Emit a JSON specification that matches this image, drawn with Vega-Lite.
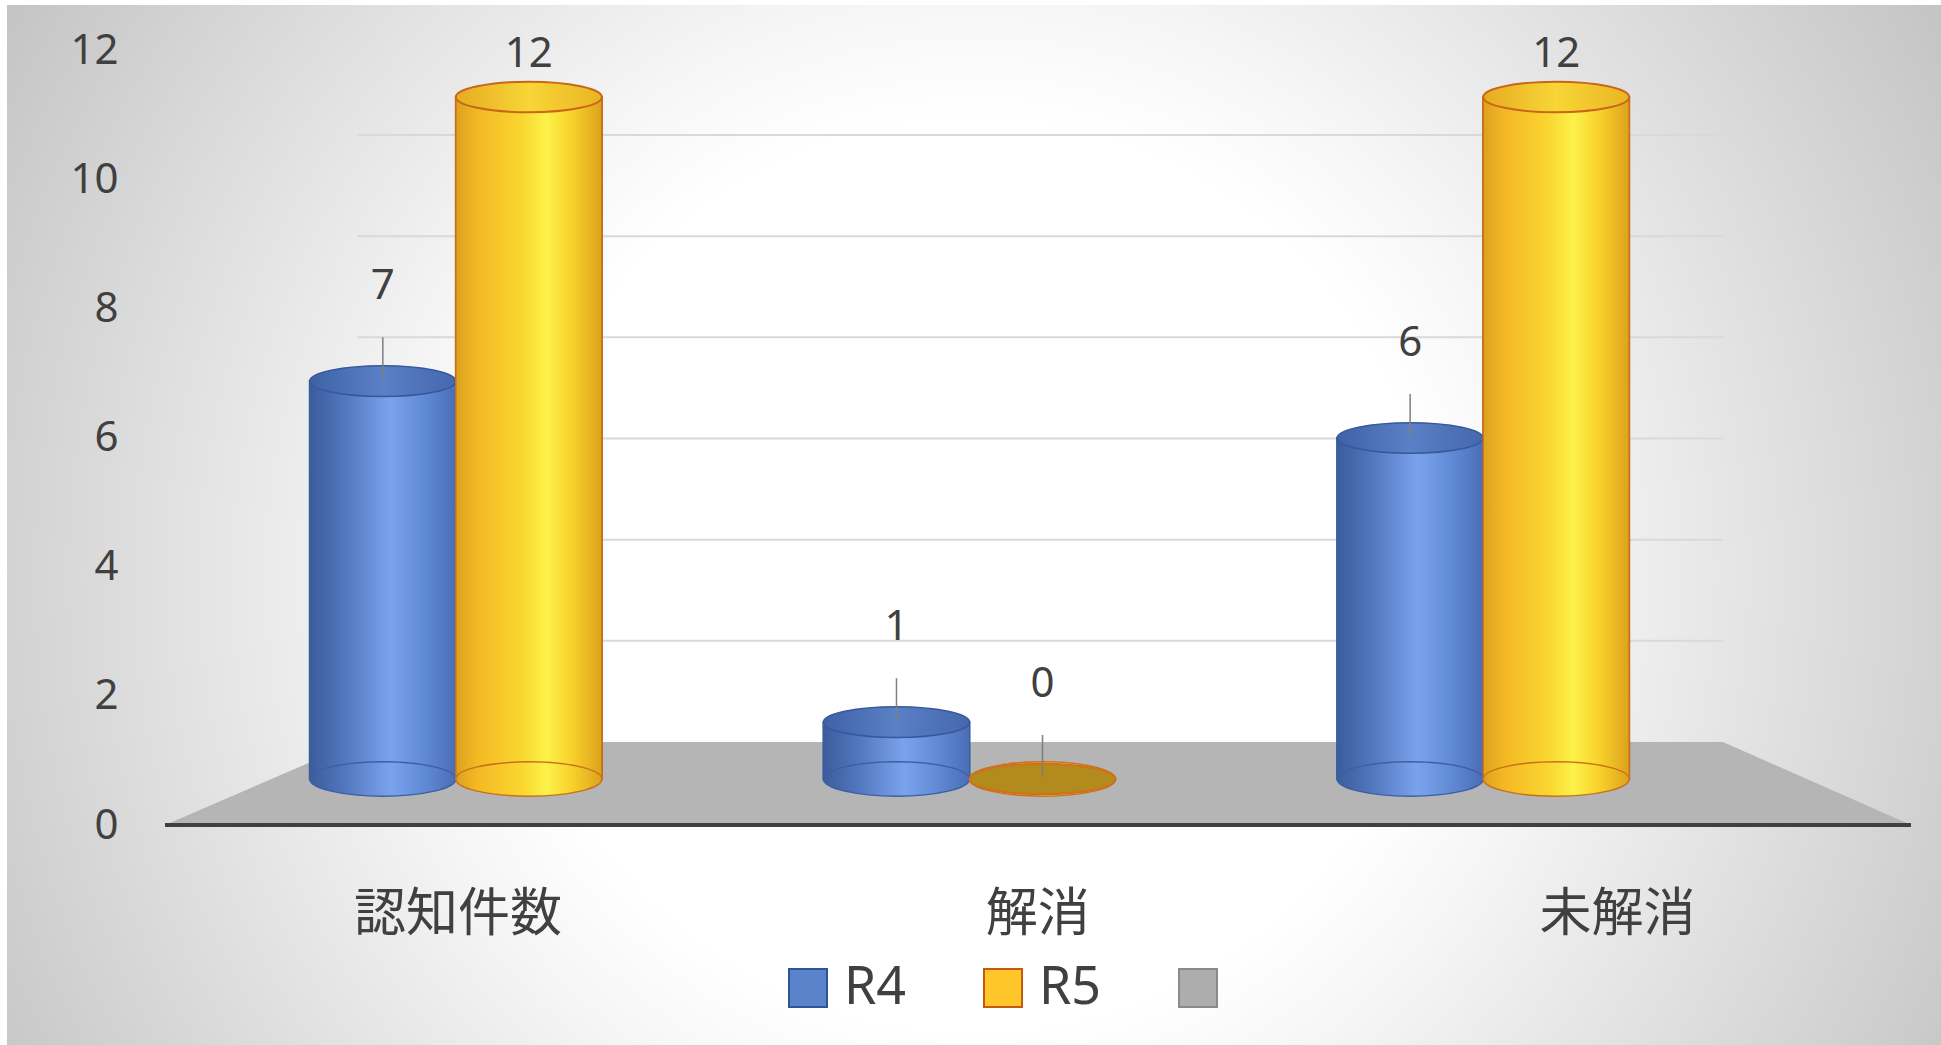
{
  "$schema": "https://vega.github.io/schema/vega-lite/v6.json",
  "width": 1934,
  "height": 1040,
  "autosize": {"type": "none"},
  "padding": {"left": 7, "top": 5, "right": 0, "bottom": 0},
  "background": "#ffffff",
  "config": {"view": {"stroke": "#d4d4d4"}, "font": "Noto Sans"},
  "data": {
    "values": [
      {"cat": "認知件数", "s": "R4", "v": 7},
      {"cat": "認知件数", "s": "R5", "v": 12},
      {"cat": "解消", "s": "R4", "v": 1},
      {"cat": "解消", "s": "R5", "v": 0},
      {"cat": "未解消", "s": "R4", "v": 6},
      {"cat": "未解消", "s": "R5", "v": 12}
    ]
  },
  "resolve": {"scale": {"x": "independent", "y": "independent", "xOffset": "independent", "color": "independent", "stroke": "independent"}},
  "layer": [
    {
      "data": {"values": [{"a": 0, "b": 1}]},
      "mark": {"type": "rect", "clip": true, "fill": {"gradient": "radial", "x1": 0.5, "y1": 0.526, "r1": 0, "x2": 0.5, "y2": 0.526, "r2": 0.62, "stops": [{"offset": 0, "color": "#ffffff"}, {"offset": 0.38, "color": "#ffffff"}, {"offset": 0.48, "color": "#f6f6f6"}, {"offset": 0.8, "color": "#d3d3d3"}, {"offset": 1, "color": "#bdbdbd"}]}},
      "encoding": {
        "y": {"field": "a", "type": "quantitative", "scale": {"domain": [0, 1], "range": [-447, 1487]}, "axis": null},
        "y2": {"field": "b"}
      }
    },
    {
      "data": {"values": [{"g": 2}, {"g": 4}, {"g": 6}, {"g": 8}, {"g": 10}, {"g": 12}]},
      "mark": {"type": "rule", "color": "#d9d9d9", "strokeWidth": 2},
      "encoding": {
        "x": {"datum": 0.11, "type": "quantitative", "scale": {"domain": [0, 1], "range": [158, 1904]}, "axis": null},
        "x2": {"datum": 0.8923},
        "y": {"field": "g", "type": "quantitative", "scale": {"domain": [0, 12], "range": [737, 130]}, "axis": null}
      }
    },
    {
      "data": {"values": [{"fx": 0, "fy": 0}, {"fx": 0.11, "fy": 1}, {"fx": 0.8923, "fy": 1}, {"fx": 1, "fy": 0}]},
      "mark": {"type": "area", "color": "#b5b5b5", "opacity": 1},
      "encoding": {
        "x": {"field": "fx", "type": "quantitative", "scale": {"domain": [0, 1], "range": [158, 1904]}, "axis": null},
        "y": {"field": "fy", "type": "quantitative", "scale": {"domain": [0, 1], "range": [820, 737]}, "axis": null},
        "y2": {"datum": 0}
      }
    },
    {
      "data": {"values": [{"z": 0}]},
      "mark": {"type": "rule", "color": "#404040", "strokeWidth": 4},
      "encoding": {
        "x": {"datum": 0, "type": "quantitative", "scale": {"domain": [0, 1], "range": [158, 1904]}, "axis": null},
        "x2": {"datum": 1},
        "y": {"field": "z", "type": "quantitative", "scale": {"domain": [0, 1], "range": [820, 737]}, "axis": null}
      }
    },
    {
      "mark": {"type": "bar", "strokeWidth": 2},
      "encoding": {
        "x": {"field": "cat", "type": "nominal", "sort": null, "scale": {"type": "band", "domain": ["認知件数", "解消", "未解消"], "range": [192, 1733], "paddingInner": 0, "paddingOuter": 0}, "axis": null},
        "xOffset": {"field": "s", "type": "nominal", "scale": {"type": "band", "domain": ["R4", "R5"], "paddingInner": 0, "paddingOuter": 0.7586}},
        "y": {"field": "v", "type": "quantitative", "scale": {"domain": [0, 12], "range": [774, 92]}, "axis": null},
        "color": {"field": "s", "type": "nominal", "scale": {"domain": ["R4", "R5", "系列3"], "range": ["#5b83cb", "#fec62a", "#adadad"]},
          "legend": {"title": null, "orient": "none", "legendX": 775, "legendY": 957, "direction": "horizontal", "columns": 3, "symbolType": "square", "symbolSize": 1444, "symbolStrokeWidth": 2, "labelFont": "Noto Sans", "labelFontSize": 52, "labelColor": "#404040", "labelOffset": 10, "columnPadding": 70, "padding": 0, "labelExpr": "datum.label === '系列3' ? '' : datum.label"}},
        "stroke": {"field": "s", "type": "nominal", "scale": {"domain": ["R4", "R5", "系列3"], "range": ["#2f5597", "#c65911", "#8a8a8a"]},
          "legend": {"title": null, "orient": "none", "legendX": 775, "legendY": 957, "direction": "horizontal", "columns": 3, "symbolType": "square", "symbolSize": 1444, "symbolStrokeWidth": 2, "labelFont": "Noto Sans", "labelFontSize": 52, "labelColor": "#404040", "labelOffset": 10, "columnPadding": 70, "padding": 0, "labelExpr": "datum.label === '系列3' ? '' : datum.label"}}
      }
    },
    {
      "transform": [{"filter": "datum.s === 'R4'"}],
      "layer": [
        {
          "mark": {"type": "bar", "stroke": "#3b5fa5", "strokeWidth": 1, "fill": {"gradient": "linear", "x1": 0, "y1": 0, "x2": 1, "y2": 0, "stops": [{"offset": 0, "color": "#3c5c9b"}, {"offset": 0.25, "color": "#5378c0"}, {"offset": 0.55, "color": "#7ba3ed"}, {"offset": 0.8, "color": "#5f88d3"}, {"offset": 1, "color": "#4a6db5"}]}}
        },
        {
          "mark": {"type": "point", "filled": true, "opacity": 1, "size": 21330, "shape": "M -1 0 C -1 -0.13 -0.552 -0.235 0 -0.235 C 0.552 -0.235 1 -0.13 1 0 C 1 0.13 0.552 0.235 0 0.235 C -0.552 0.235 -1 0.13 -1 0 Z", "stroke": "#3b5fa5", "strokeWidth": 1.5, "fill": {"gradient": "linear", "x1": 0, "y1": 0, "x2": 1, "y2": 0, "stops": [{"offset": 0, "color": "#3c5c9b"}, {"offset": 0.25, "color": "#5378c0"}, {"offset": 0.55, "color": "#7ba3ed"}, {"offset": 0.8, "color": "#5f88d3"}, {"offset": 1, "color": "#4a6db5"}]}},
          "encoding": {"y": {"datum": 0}}
        },
        {
          "mark": {"type": "point", "filled": true, "opacity": 1, "size": 21330, "shape": "M -1 0 C -1 -0.116 -0.552 -0.21 0 -0.21 C 0.552 -0.21 1 -0.116 1 0 C 1 0.116 0.552 0.21 0 0.21 C -0.552 0.21 -1 0.116 -1 0 Z", "stroke": "#36589c", "strokeWidth": 1.5, "fill": {"gradient": "linear", "x1": 0, "y1": 0, "x2": 1, "y2": 0, "stops": [{"offset": 0, "color": "#3f62a6"}, {"offset": 0.5, "color": "#5a80c6"}, {"offset": 1, "color": "#4567ad"}]}}
        }
      ],
      "encoding": {
        "x": {"field": "cat", "type": "nominal", "sort": null, "scale": {"type": "band", "domain": ["認知件数", "解消", "未解消"], "range": [192, 1733], "paddingInner": 0, "paddingOuter": 0}, "axis": null},
        "xOffset": {"field": "s", "type": "nominal", "scale": {"type": "band", "domain": ["R4", "R5"], "paddingInner": 0, "paddingOuter": 0.7586}},
        "y": {"field": "v", "type": "quantitative", "scale": {"domain": [0, 12], "range": [774, 92]}, "axis": null}
      }
    },
    {
      "transform": [{"filter": "datum.s === 'R5'"}],
      "layer": [
        {
          "mark": {"type": "bar", "stroke": "#c8701a", "strokeWidth": 1.5, "fill": {"gradient": "linear", "x1": 0, "y1": 0, "x2": 1, "y2": 0, "stops": [{"offset": 0, "color": "#dca11e"}, {"offset": 0.15, "color": "#f4b925"}, {"offset": 0.45, "color": "#fad630"}, {"offset": 0.62, "color": "#fcf24a"}, {"offset": 0.8, "color": "#f8d02a"}, {"offset": 1, "color": "#dba21c"}]}}
        },
        {
          "mark": {"type": "point", "filled": true, "opacity": 1, "size": 21330, "shape": "M -1 0 C -1 -0.13 -0.552 -0.235 0 -0.235 C 0.552 -0.235 1 -0.13 1 0 C 1 0.13 0.552 0.235 0 0.235 C -0.552 0.235 -1 0.13 -1 0 Z", "stroke": "#c8701a", "strokeWidth": 1.5, "fill": {"gradient": "linear", "x1": 0, "y1": 0, "x2": 1, "y2": 0, "stops": [{"offset": 0, "color": "#dca11e"}, {"offset": 0.15, "color": "#f4b925"}, {"offset": 0.45, "color": "#fad630"}, {"offset": 0.62, "color": "#fcf24a"}, {"offset": 0.8, "color": "#f8d02a"}, {"offset": 1, "color": "#dba21c"}]}},
          "encoding": {"y": {"datum": 0}}
        },
        {
          "transform": [{"filter": "datum.v > 0"}],
          "mark": {"type": "point", "filled": true, "opacity": 1, "size": 21330, "shape": "M -1 0 C -1 -0.116 -0.552 -0.21 0 -0.21 C 0.552 -0.21 1 -0.116 1 0 C 1 0.116 0.552 0.21 0 0.21 C -0.552 0.21 -1 0.116 -1 0 Z", "stroke": "#c8661a", "strokeWidth": 2, "fill": {"gradient": "linear", "x1": 0, "y1": 0, "x2": 1, "y2": 0, "stops": [{"offset": 0, "color": "#e6ab22"}, {"offset": 0.5, "color": "#f8d636"}, {"offset": 1, "color": "#e9b523"}]}}
        },
        {
          "transform": [{"filter": "datum.v == 0"}],
          "mark": {"type": "point", "filled": true, "opacity": 1, "size": 21330, "shape": "M -1 0 C -1 -0.116 -0.552 -0.21 0 -0.21 C 0.552 -0.21 1 -0.116 1 0 C 1 0.116 0.552 0.21 0 0.21 C -0.552 0.21 -1 0.116 -1 0 Z", "stroke": "#d0701e", "strokeWidth": 2, "fill": "#b28a1e"}
        }
      ],
      "encoding": {
        "x": {"field": "cat", "type": "nominal", "sort": null, "scale": {"type": "band", "domain": ["認知件数", "解消", "未解消"], "range": [192, 1733], "paddingInner": 0, "paddingOuter": 0}, "axis": null},
        "xOffset": {"field": "s", "type": "nominal", "scale": {"type": "band", "domain": ["R4", "R5"], "paddingInner": 0, "paddingOuter": 0.7586}},
        "y": {"field": "v", "type": "quantitative", "scale": {"domain": [0, 12], "range": [774, 92]}, "axis": null}
      }
    },
    {
      "layer": [
        {
          "transform": [{"filter": "datum.v < 12"}],
          "mark": {"type": "rule", "color": "#7f7f7f", "strokeWidth": 1.5, "yOffset": -44, "y2Offset": -2},
          "encoding": {"y2": {"field": "v"}}
        },
        {
          "transform": [{"filter": "datum.v == 12"}],
          "mark": {"type": "text", "font": "Noto Sans", "fontSize": 42, "color": "#404040", "baseline": "middle", "dy": -43},
          "encoding": {"text": {"field": "v", "type": "quantitative"}}
        },
        {
          "transform": [{"filter": "datum.v < 12"}],
          "mark": {"type": "text", "font": "Noto Sans", "fontSize": 42, "color": "#404040", "baseline": "middle", "dy": -95},
          "encoding": {"text": {"field": "v", "type": "quantitative"}}
        }
      ],
      "encoding": {
        "x": {"field": "cat", "type": "nominal", "sort": null, "scale": {"type": "band", "domain": ["認知件数", "解消", "未解消"], "range": [192, 1733], "paddingInner": 0, "paddingOuter": 0}, "axis": null},
        "xOffset": {"field": "s", "type": "nominal", "scale": {"type": "band", "domain": ["R4", "R5"], "paddingInner": 0, "paddingOuter": 0.7586}},
        "y": {"field": "v", "type": "quantitative", "scale": {"domain": [0, 12], "range": [774, 92]}, "axis": null}
      }
    },
    {
      "data": {"values": [{"z": 0}]},
      "mark": {"type": "rule", "opacity": 0},
      "encoding": {
        "y": {"field": "z", "type": "quantitative", "scale": {"domain": [0, 12], "range": [820, 45]},
          "axis": {"orient": "left", "offset": -116, "zindex": 2, "values": [0, 2, 4, 6, 8, 10, 12], "domain": false, "ticks": false, "tickSize": 0, "grid": false, "labelPadding": 5, "labelFont": "Noto Sans", "labelFontSize": 42, "labelColor": "#404040", "title": null}}
      }
    },
    {
      "mark": {"type": "tick", "opacity": 0},
      "encoding": {
        "x": {"field": "cat", "type": "nominal", "sort": null, "scale": {"type": "point", "domain": ["認知件数", "解消", "未解消"], "range": [450.5, 1610], "padding": 0},
          "axis": {"orient": "bottom", "offset": -220, "zindex": 2, "domain": false, "ticks": false, "tickSize": 0, "grid": false, "labelAngle": 0, "labelLimit": 0, "labelPadding": 64, "labelFont": "Noto Sans CJK JP", "labelFontSize": 52, "labelColor": "#404040", "title": null}}
      }
    }
  ]
}
